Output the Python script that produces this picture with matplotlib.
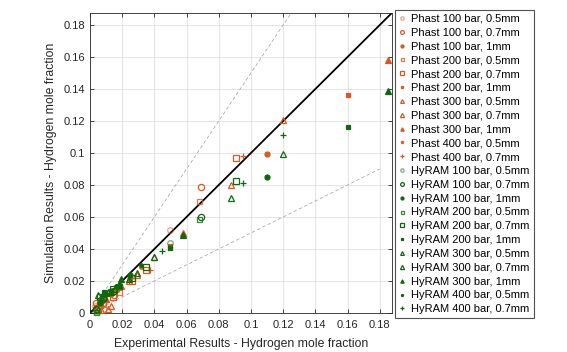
import matplotlib
matplotlib.use('Agg')
from matplotlib import pyplot as plt
from matplotlib.ticker import FuncFormatter

plt.rcParams['font.family'] = ['Liberation Sans', 'DejaVu Sans']

orange = '#E0561C'
green = '#0B6A0B'

# experimental values (x) for each test case
x_100_05 = [0.003, 0.005, 0.009, 0.050]
x_100_07 = [0.004, 0.008, 0.015, 0.069]
x_100_1 = [0.006, 0.013, 0.025, 0.110]
x_200_05 = [0.004, 0.008, 0.018, 0.068]
x_200_07 = [0.006, 0.014, 0.026, 0.035, 0.0906]
x_200_1 = [0.009, 0.018, 0.050, 0.160]
x_300_05 = [0.005, 0.011, 0.024, 0.0877]
x_300_07 = [0.007, 0.013, 0.029, 0.040, 0.120]
x_300_1 = [0.010, 0.019, 0.0575, 0.185]
x_400_05 = [0.008, 0.016, 0.032]
x_400_07_phast = [0.009, 0.018, 0.0373, 0.095]
x_400_07_hyram = [0.009, 0.018, 0.045, 0.095, 0.120]

# Phast simulation results
p_100_05 = [0.0045, 0.003, 0.0022, 0.052]
p_100_07 = [0.006, 0.0065, 0.011, 0.0788]
p_100_1 = [0.007, 0.012, 0.022, 0.0995]
p_200_05 = [0.0035, 0.0055, 0.013, 0.070]
p_200_07 = [0.005, 0.010, 0.020, 0.027, 0.097]
p_200_1 = [0.008, 0.016, 0.042, 0.136]
p_300_05 = [0.0025, 0.0027, 0.020, 0.0798]
p_300_07 = [0.002, 0.0045, 0.024, 0.035, 0.1205]
p_300_1 = [0.009, 0.017, 0.0498, 0.158]
p_400_05 = [0.0075, 0.014, 0.029]
p_400_07 = [0.008, 0.015, 0.027, 0.098]

# HyRAM simulation results
h_100_05 = [0.0015, 0.001, 0.0085, 0.0437]
h_100_07 = [0.0025, 0.0095, 0.014, 0.060]
h_100_1 = [0.006, 0.0135, 0.024, 0.0852]
h_200_05 = [0.0005, 0.0095, 0.017, 0.059]
h_200_07 = [0.010, 0.015, 0.022, 0.029, 0.0825]
h_200_1 = [0.013, 0.017, 0.0405, 0.116]
h_300_05 = [0.011, 0.013, 0.021, 0.0718]
h_300_07 = [0.010, 0.013, 0.025, 0.0348, 0.0995]
h_300_1 = [0.0125, 0.021, 0.0487, 0.1385]
h_400_05 = [0.011, 0.017, 0.030]
h_400_07 = [0.012, 0.018, 0.039, 0.0813, 0.111]

cases = ['100 bar, 0.5mm', '100 bar, 0.7mm', '100 bar, 1mm',
         '200 bar, 0.5mm', '200 bar, 0.7mm', '200 bar, 1mm',
         '300 bar, 0.5mm', '300 bar, 0.7mm', '300 bar, 1mm',
         '400 bar, 0.5mm', '400 bar, 0.7mm']
xs_phast = [x_100_05, x_100_07, x_100_1, x_200_05, x_200_07, x_200_1,
            x_300_05, x_300_07, x_300_1, x_400_05, x_400_07_phast]
xs_hyram = [x_100_05, x_100_07, x_100_1, x_200_05, x_200_07, x_200_1,
            x_300_05, x_300_07, x_300_1, x_400_05, x_400_07_hyram]
ys_phast = [p_100_05, p_100_07, p_100_1, p_200_05, p_200_07, p_200_1,
            p_300_05, p_300_07, p_300_1, p_400_05, p_400_07]
ys_hyram = [h_100_05, h_100_07, h_100_1, h_200_05, h_200_07, h_200_1,
            h_300_05, h_300_07, h_300_1, h_400_05, h_400_07]

# marker, filled, size, alpha for each case
styles = [('o', False, 4.0, 0.55), ('o', False, 4.5, 1.0), ('o', True, 3.6, 1.0),
          ('s', False, 3.6, 0.8), ('s', False, 4.0, 1.0), ('s', True, 3.4, 1.0),
          ('^', False, 4.5, 1.0), ('^', False, 5.0, 1.0), ('^', True, 4.0, 1.0),
          ('.', True, 5.0, 1.0), ('+', True, 5.0, 1.0)]

fig = plt.figure(figsize=(5.67, 3.52), dpi=100)
ax = fig.add_axes([0.1587, 0.111, 0.5323, 0.852])

lim = 0.1875
ax.plot([0, lim], [0, 1.5 * lim], color='#aaaaaa', lw=0.6, ls=(0, (4, 3)), zorder=1)
ax.plot([0, 0.18], [0, 0.09], color='#aaaaaa', lw=0.6, ls=(0, (4, 3)), zorder=1)
ax.plot([0, lim], [0, lim], color='k', lw=1.3, zorder=1)

for name, color, xs, ys in [('Phast', orange, xs_phast, ys_phast),
                            ('HyRAM', green, xs_hyram, ys_hyram)]:
    for case, x, y, (m, filled, ms, a) in zip(cases, xs, ys, styles):
        ax.plot(x, y, ls='none', marker=m, ms=ms, mew=0.9, alpha=a,
                mec=color, mfc=color if filled else 'none',
                label=f'{name} {case}', zorder=3, clip_on=False)

ax.set_xlim(0, lim)
ax.set_ylim(0, lim)
ticks = [0, 0.02, 0.04, 0.06, 0.08, 0.1, 0.12, 0.14, 0.16, 0.18]
ax.set_xticks(ticks)
ax.set_yticks(ticks)
fmt = FuncFormatter(lambda v, p: f'{v:g}')
ax.xaxis.set_major_formatter(fmt)
ax.yaxis.set_major_formatter(fmt)
ax.tick_params(direction='in', top=True, right=True, length=3, width=0.6,
               labelsize=8, colors='#262626')
ax.tick_params(axis='x', pad=5)
ax.tick_params(axis='y', pad=3.5)
ax.grid(True, color='#dedede', lw=0.6)
ax.set_axisbelow(True)
for s in ax.spines.values():
    s.set_color('#262626')
    s.set_linewidth(0.6)

ax.set_xlabel('Experimental Results - Hydrogen mole fraction', fontsize=8.8,
              color='#262626', labelpad=5.5)
ax.set_ylabel('Simulation Results - Hydrogen mole fraction', fontsize=8.8,
              color='#262626', labelpad=5)

leg = fig.legend(loc='upper left', bbox_to_anchor=(0.697, 0.972), fontsize=8,
                 frameon=True, fancybox=False, edgecolor='#262626',
                 handlelength=0.6, handletextpad=0.5, labelspacing=0.345,
                 borderpad=0.35, borderaxespad=0, markerscale=0.6)
leg.get_frame().set_linewidth(0.8)

fig.savefig('out.png', dpi=100)
